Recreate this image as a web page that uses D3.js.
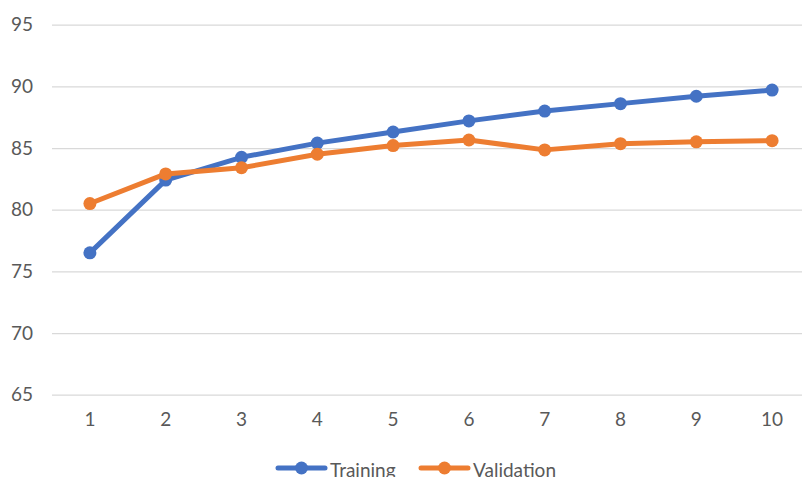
<!DOCTYPE html>
<html><head><meta charset="utf-8">
<script src="https://cdn.jsdelivr.net/npm/d3@7"></script>
<style>body{margin:0;background:#fff;overflow:hidden}svg{display:block}</style>
</head><body><div id="chart"></div>
<script>
const categories = ["1","2","3","4","5","6","7","8","9","10"];
const training = [76.5, 82.4, 84.25, 85.4, 86.3, 87.2, 88.0, 88.6, 89.2, 89.7];
const validation = [80.5, 82.9, 83.4, 84.5, 85.2, 85.65, 84.85, 85.35, 85.5, 85.6];
const yTicks = [65, 70, 75, 80, 85, 90, 95];
const seriesNames = ["Training", "Validation"];
const colors = ["#4472C4", "#ED7D31"];

const W = 802, H = 477;
const svg = d3.select("#chart").append("svg").attr("width", W).attr("height", H);
const font = "Lato, 'Open Sans', sans-serif";

const x = d3.scaleBand().domain(categories).range([52, 810]);
const y = d3.scaleLinear().domain([65, 95]).range([394.7, 24.7]);

// gridlines + y labels
const yAxis = d3.axisLeft(y).tickValues(yTicks).tickSize(-(810 - 52)).tickPadding(19);
const gy = svg.append("g").attr("transform", "translate(52,0)").call(yAxis);
gy.select(".domain").remove();
gy.selectAll(".tick line").attr("stroke", "#d9d9d9").attr("stroke-width", 1.3);
gy.selectAll(".tick text").attr("fill", "#595959").style("font-family", font).style("font-size", "19px");

// x labels
const xAxis = d3.axisBottom(x).tickSize(0).tickPadding(18);
const gx = svg.append("g").attr("transform", "translate(0,394.7)").call(xAxis);
gx.select(".domain").remove();
gx.selectAll(".tick text").attr("fill", "#595959").style("font-family", font).style("font-size", "19px");

const cx = c => x(c) + x.bandwidth() / 2;
const series = [training, validation];
const line = d3.line().x((d, i) => cx(categories[i])).y(d => y(d));

series.forEach((vals, s) => {
  const g = svg.append("g");
  g.append("path").datum(vals).attr("d", line).attr("fill", "none")
    .attr("stroke", colors[s]).attr("stroke-width", 5).attr("stroke-linejoin", "round").attr("stroke-linecap", "round");
  g.selectAll("circle").data(vals).join("circle")
    .attr("cx", (d, i) => cx(categories[i])).attr("cy", d => y(d)).attr("r", 6.5)
    .attr("fill", colors[s]);
});

// legend
const legendItems = [{x0: 278, x1: 325, tx: 330}, {x0: 421, x1: 468, tx: 473}];
const ly = 468;
legendItems.forEach((it, s) => {
  const g = svg.append("g");
  g.append("line").attr("x1", it.x0).attr("x2", it.x1).attr("y1", ly).attr("y2", ly)
    .attr("stroke", colors[s]).attr("stroke-width", 5).attr("stroke-linecap", "round");
  g.append("circle").attr("cx", (it.x0 + it.x1) / 2).attr("cy", ly).attr("r", 6.5).attr("fill", colors[s]);
  g.append("text").attr("x", it.tx).attr("y", ly + 9).attr("fill", "#595959")
    .style("font-family", font).style("font-size", "19px").text(seriesNames[s]);
});
</script></body></html>
